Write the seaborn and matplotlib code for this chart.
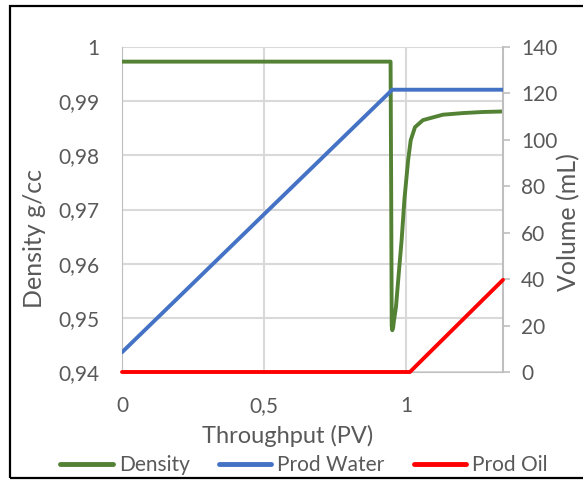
import matplotlib
matplotlib.use("Agg")
import matplotlib.pyplot as plt
import seaborn as sns
import pandas as pd
from matplotlib.patches import Rectangle
from matplotlib.lines import Line2D

# ---- data ----
density_x = [0, 0.3, 0.6, 0.9, 0.946, 0.948, 0.950, 0.952, 0.955, 0.958, 0.965, 0.975,
             0.985, 0.995, 1.008, 1.017, 1.032, 1.06, 1.13, 1.2, 1.27, 1.342]
density_y = [0.9973, 0.9973, 0.9973, 0.9973, 0.9973, 0.975, 0.9485, 0.9477, 0.9482, 0.9495,
             0.952, 0.9583, 0.9644, 0.972, 0.9792, 0.9828, 0.9852, 0.9865, 0.9875, 0.9878,
             0.988, 0.9881]
water_x = [0, 0.952, 1.342]
water_y = [8.5, 121.6, 121.6]
oil_x = [0, 1.014, 1.342]
oil_y = [0, 0, 39.7]

x_ticks = [0, 0.5, 1]
x_tick_labels = ["0", "0,5", "1"]
left_ticks = [0.94, 0.95, 0.96, 0.97, 0.98, 0.99, 1.0]
left_tick_labels = ["0,94", "0,95", "0,96", "0,97", "0,98", "0,99", "1"]
right_ticks = [0, 20, 40, 60, 80, 100, 120, 140]

GREEN = "#548235"
BLUE = "#4472C4"
RED = "#FF0000"
TXT = "#595959"
GRID = "#d9d9d9"

sns.set_style("white")
plt.rcParams["font.family"] = ["Lato", "DejaVu Sans"]

W, H = 583, 480
fig = plt.figure(figsize=(W/100, H/100), dpi=100)
ax = fig.add_axes([122/W, 1-372/H, (503-122)/W, (372-47)/H])
ax2 = ax.twinx()

df_d = pd.DataFrame({"x": density_x, "y": density_y})
df_w = pd.DataFrame({"x": water_x, "y": water_y})
df_o = pd.DataFrame({"x": oil_x, "y": oil_y})

sns.lineplot(data=df_d, x="x", y="y", ax=ax, color=GREEN, lw=2.8, sort=False, zorder=3)
sns.lineplot(data=df_w, x="x", y="y", ax=ax2, color=BLUE, lw=2.8, sort=False, zorder=3)
sns.lineplot(data=df_o, x="x", y="y", ax=ax2, color=RED, lw=2.8, sort=False, zorder=3,
             clip_on=False)

ax.set_xlim(0, 1.342)
ax.set_ylim(0.94, 1.0)
ax2.set_ylim(0, 140)

ax.set_xticks(x_ticks)
ax.set_xticklabels(x_tick_labels)
ax.set_yticks(left_ticks)
ax.set_yticklabels(left_tick_labels)
ax2.set_yticks(right_ticks)

ax.grid(True, color=GRID, lw=1.5)
ax.set_axisbelow(True)
ax2.grid(False)

for a in (ax, ax2):
    for s in a.spines.values():
        s.set_visible(False)
ax.spines["left"].set_visible(True)
ax.spines["left"].set_color("#bfbfbf")
ax2.spines["bottom"].set_visible(True)
ax2.spines["bottom"].set_color("#bfbfbf")
ax2.spines["right"].set_visible(True)
ax2.spines["right"].set_color("#bfbfbf")
ax2.spines["right"].set_linewidth(1.5)

ax.tick_params(axis="both", length=0, labelsize=15, labelcolor=TXT)
ax.tick_params(axis="y", pad=16)
ax.tick_params(axis="x", pad=17)
ax2.tick_params(axis="y", length=5, width=1.2, color="#bfbfbf", direction="out",
                labelsize=15, labelcolor=TXT, pad=8)

ax.set_xlabel("")
ax.set_ylabel("")
ax2.set_ylabel("")
fig.text(288/W, 1-436/H, "Throughput (PV)", fontsize=17, color=TXT,
         ha="center", va="center")
fig.text(34/W, 1-238/H, "Density g/cc", fontsize=18, color=TXT,
         ha="center", va="center", rotation=90)
fig.text(569/W, 1-222/H, "Volume (mL)", fontsize=18, color=TXT,
         ha="center", va="center", rotation=90)

handles = [Line2D([], [], color=GREEN, lw=3.5),
           Line2D([], [], color=BLUE, lw=3.5),
           Line2D([], [], color=RED, lw=3.5)]
fig.legend(handles, ["Density", "Prod Water", "Prod Oil"], loc="center",
           bbox_to_anchor=(304/W, 1-465/H), ncol=3, frameon=False, fontsize=15,
           labelcolor=TXT, handlelength=2.5, handletextpad=0.3, columnspacing=1.4)

fig.patches.append(Rectangle((10/W, 1-478/H), 1.2, (478-6)/H,
                             transform=fig.transFigure, fill=False, ec="black", lw=1.6))

fig.savefig("out.png", dpi=100)
